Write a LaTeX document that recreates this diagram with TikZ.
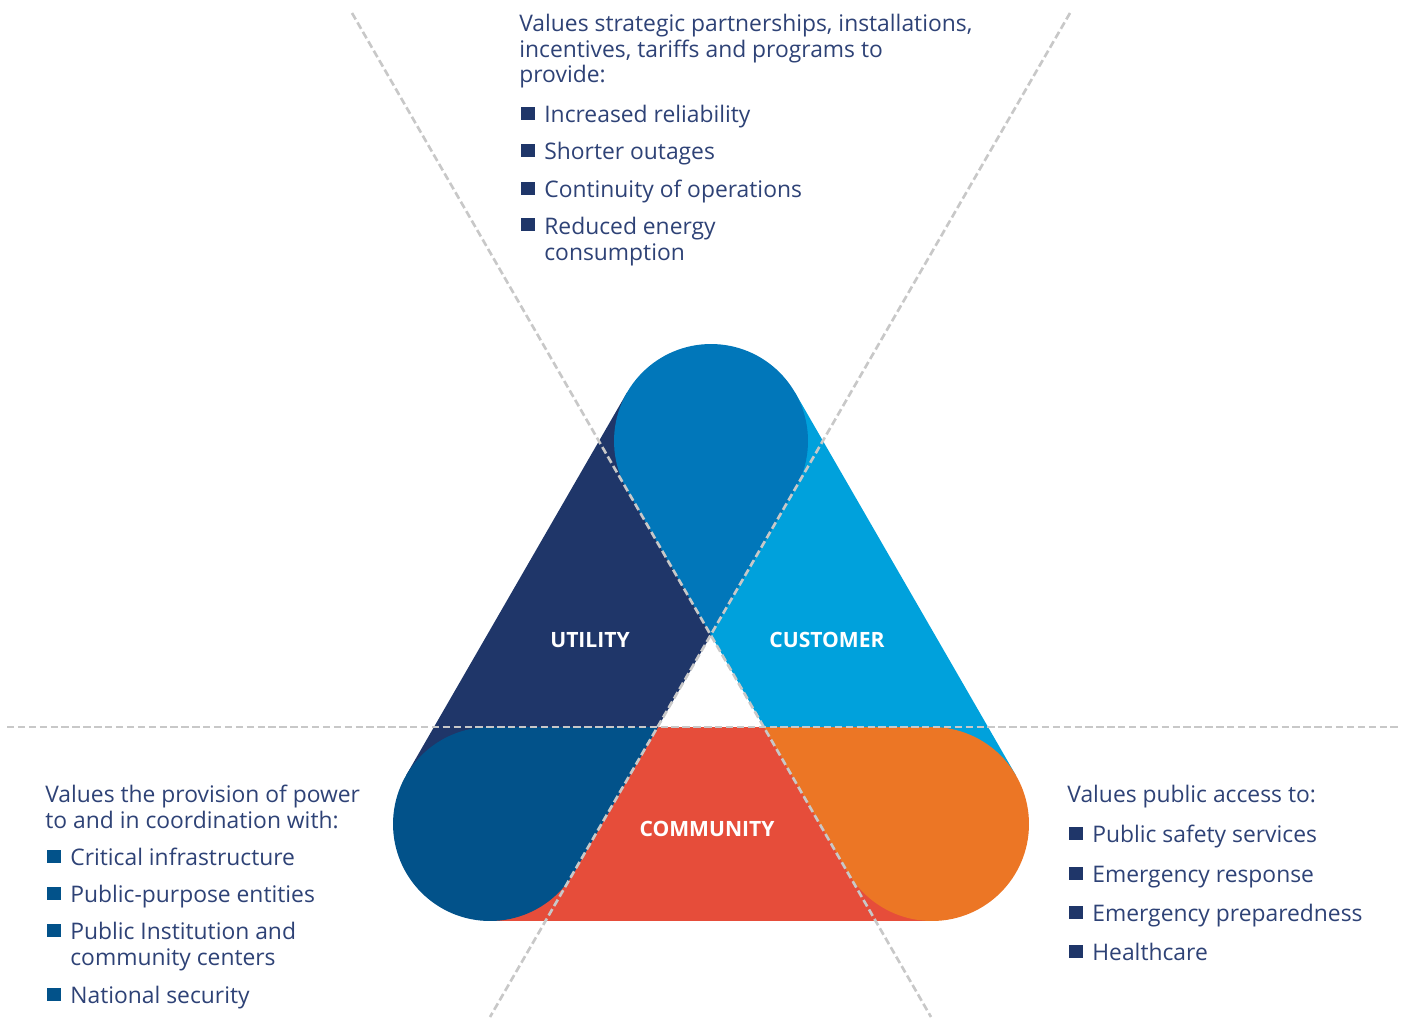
\documentclass[tikz,border=0pt]{standalone}
\usepackage{fontspec}
\setmainfont{Open Sans}
\usepackage{tikz}

\definecolor{utilblue}{HTML}{1F3669}
\definecolor{custblue}{HTML}{00A1DC}
\definecolor{commred}{HTML}{E64D3A}
\definecolor{topblue}{HTML}{0177BA}
\definecolor{leftblue}{HTML}{02528A}
\definecolor{rightorange}{HTML}{EC7625}
\definecolor{guide}{HTML}{C8C8C8}
\definecolor{bodytext}{HTML}{2E4276}

\begin{document}
\begin{tikzpicture}[x=0.02cm,y=-0.02cm,
	guide line/.style={draw=guide,line width=1.5pt,dash pattern=on 4.2pt off 2pt},
	band label/.style={text=white,font=\fontsize{12}{14}\selectfont\bfseries},
	body/.style={text=bodytext,font=\fontsize{13}{14.6}\selectfont,anchor=base west,inner sep=0pt,align=left},
	box/.style={fill=utilblue,minimum size=0.27cm,inner sep=0pt}]
	
	\useasboundingbox (0,0) rectangle (1408,1017);
	
	% centres of the three round corners
	\coordinate (T) at (711,441);
	\coordinate (L) at (490,824);
	\coordinate (R) at (932,824);
	\coordinate (C) at (711,635);
	
	% the three bands
	\fill[utilblue] (627,392.5) -- (795,489.5) -- (574,872.5) -- (406,775.5) -- cycle;
	\fill[custblue] (795,392.5) -- (1016,775.5) -- (848,872.5) -- (627,489.5) -- cycle;
	\fill[commred] (490,727) rectangle (932,921);
	
	% where two bands meet
	\fill[topblue] (T) circle[radius=1.94cm];
	\fill[topblue] (627,489.5) -- (795,489.5) -- (C) -- cycle;
	\fill[leftblue] (L) circle[radius=1.94cm];
	\fill[leftblue] (L) -- (490,727) -- (658,727) -- (574,872.5) -- cycle;
	\fill[rightorange] (R) circle[radius=1.94cm];
	\fill[rightorange] (R) -- (932,727) -- (764,727) -- (848,872.5) -- cycle;
	
	% guide lines
	\coordinate (g1) at (352,13);
	\coordinate (g2) at (931,1017);
	\coordinate (g3) at (1070,13);
	\coordinate (g4) at (490,1017);
	\coordinate (g5) at (7,727);
	\coordinate (g6) at (1400,727);
	\draw[guide line] (g1) -- (g2);
	\draw[guide line] (g3) -- (g4);
	\draw[guide line] (g5) -- (g6);
	
	\node[band label] (utility) at (590,640) {UTILITY};
	\node[band label] (customer) at (827,640) {CUSTOMER};
	\node[band label] (community) at (707,829) {COMMUNITY};
	
	% customer values
	\node[body] (topintro) at (519,83) {Values strategic partnerships, installations,\\incentives, tariffs and programs to\\provide:};
	\node[box] (tb1) at (528,113.5) {};
	\node[body] (tt1) at (544,122) {Increased reliability};
	\node[box] (tb2) at (528,150.5) {};
	\node[body] (tt2) at (544,159) {Shorter outages};
	\node[box] (tb3) at (528,188.5) {};
	\node[body] (tt3) at (544,197) {Continuity of operations};
	\node[box] (tb4) at (528,224.5) {};
	\node[body] (tt4) at (544,260) {Reduced energy\\consumption};
	
	% utility values
	\node[body] (leftintro) at (45,828) {Values the provision of power\\to and in coordination with:};
	\node[box,fill=leftblue] (lb1) at (54,856.5) {};
	\node[body] (lt1) at (70,865) {Critical infrastructure};
	\node[box,fill=leftblue] (lb2) at (54,893.5) {};
	\node[body] (lt2) at (70,902) {Public-purpose entities};
	\node[box,fill=leftblue] (lb3) at (54,930.5) {};
	\node[body] (lt3) at (70,965) {Public Institution and\\community centers};
	\node[box,fill=leftblue] (lb4) at (54,994.5) {};
	\node[body] (lt4) at (70,1003) {National security};
	
	% community values
	\node[body] (rightintro) at (1067,802) {Values public access to:};
	\node[box] (rb1) at (1076,833.5) {};
	\node[body] (rt1) at (1092,842) {Public safety services};
	\node[box] (rb2) at (1076,873.5) {};
	\node[body] (rt2) at (1092,882) {Emergency response};
	\node[box] (rb3) at (1076,912.5) {};
	\node[body] (rt3) at (1092,921) {Emergency preparedness};
	\node[box] (rb4) at (1076,951.5) {};
	\node[body] (rt4) at (1092,960) {Healthcare};
	
\end{tikzpicture}
\end{document}
